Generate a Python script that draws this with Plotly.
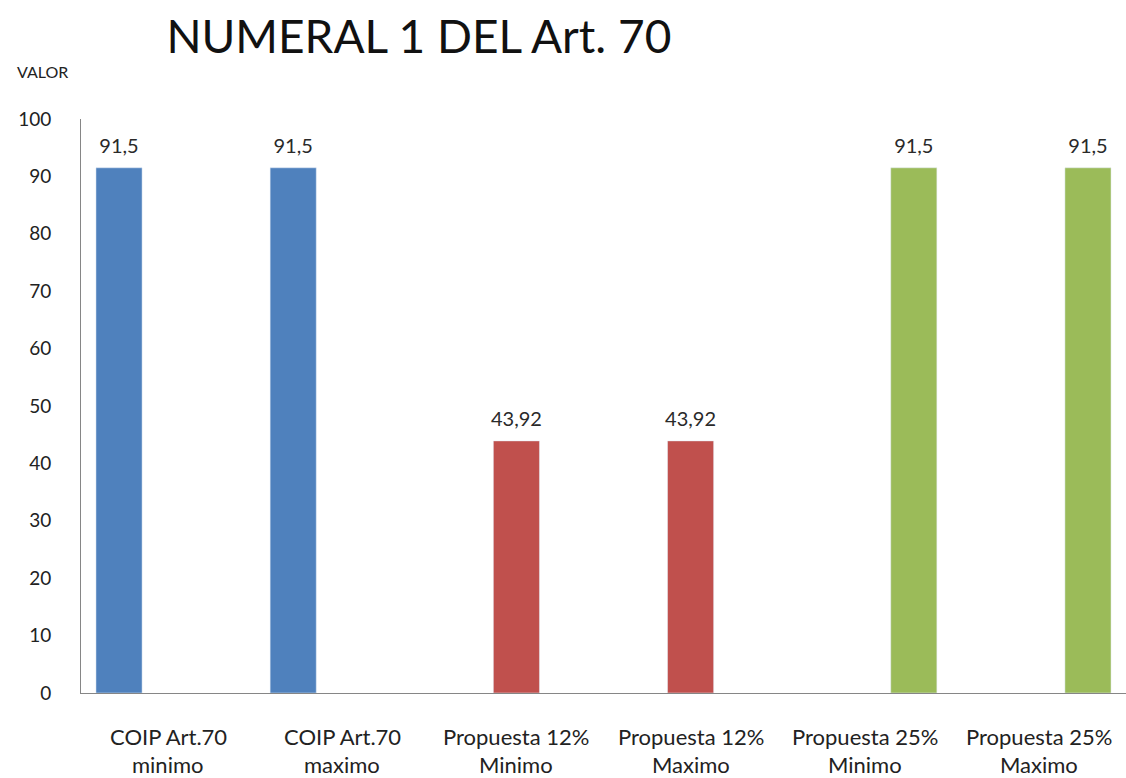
import plotly.graph_objects as go

categories = ["COIP Art.70 minimo", "COIP Art.70 maximo", "Propuesta 12% Minimo",
              "Propuesta 12% Maximo", "Propuesta 25% Minimo", "Propuesta 25% Maximo"]
line1 = ["COIP Art.70", "COIP Art.70", "Propuesta 12%", "Propuesta 12%", "Propuesta 25%", "Propuesta 25%"]
line2 = ["minimo", "maximo", "Minimo", "Maximo", "Minimo", "Maximo"]
coip = [91.5, 91.5, None, None, None, None]
prop12 = [None, None, 43.92, 43.92, None, None]
prop25 = [None, None, None, None, 91.5, 91.5]
y_ticks = [0, 10, 20, 30, 40, 50, 60, 70, 80, 90, 100]

series = [("COIP", coip, "#4F81BD"), ("Propuesta 12%", prop12, "#C0504D"), ("Propuesta 25%", prop25, "#9BBB59")]

FONT = "Lato, Open Sans, sans-serif"
GAP = 0.155

def fmt(v):
    return "" if v is None else ("%g" % v).replace(".", ",")

fig = go.Figure()
for i, (name, vals, color) in enumerate(series):
    fig.add_trace(go.Bar(
        x=categories, y=vals, name=name, marker_color=color,
        offsetgroup=str(i), showlegend=False, hoverinfo="skip",
    ))
for i, (name, vals, color) in enumerate(series):
    fig.add_trace(go.Scatter(
        x=categories, y=vals, mode="markers+text", text=[fmt(v) for v in vals],
        textposition="top center", offsetgroup=str(i),
        marker=dict(size=14, opacity=0), cliponaxis=False,
        textfont=dict(family=FONT, size=20, color="#2a2a2a"),
        showlegend=False, hoverinfo="skip",
    ))

for c, a, b in zip(categories, line1, line2):
    fig.add_annotation(x=c, y=0, xref="x", yref="y", text=a, showarrow=False,
                       yanchor="middle", yshift=-43, font=dict(family=FONT, size=22, color="#222222"))
    fig.add_annotation(x=c, y=0, xref="x", yref="y", text=b, showarrow=False,
                       yanchor="middle", yshift=-71, font=dict(family=FONT, size=22, color="#222222"))

fig.update_layout(
    width=1126, height=778,
    paper_bgcolor="white", plot_bgcolor="white",
    barmode="group", bargap=GAP, bargroupgap=0.06,
    scattermode="group", scattergap=GAP,
    margin=dict(l=81, r=0, t=119, b=85),
    title=dict(text="NUMERAL 1 DEL Art. 70", x=0.372, xanchor="center", y=0.952, yanchor="middle",
               font=dict(family=FONT, size=46, color="#111111")),
    font=dict(family=FONT),
)
fig.add_annotation(text="VALOR", xref="paper", yref="paper", x=-0.063, y=1.082, xanchor="left",
                   yanchor="middle", showarrow=False, font=dict(family=FONT, size=16, color="#222222"))

fig.update_xaxes(showticklabels=False, showline=True, linecolor="#868686", linewidth=1,
                 showgrid=False, ticks="")
fig.update_yaxes(range=[0, 100], tickvals=y_ticks, showline=True, linecolor="#868686", linewidth=1,
                 showgrid=False, zeroline=False, ticks="", ticklabelstandoff=25,
                 tickfont=dict(family=FONT, size=19, color="#222222"))

fig.write_html("out.html", post_script="document.body.style.margin='0';",
               config={"displayModeBar": False})
